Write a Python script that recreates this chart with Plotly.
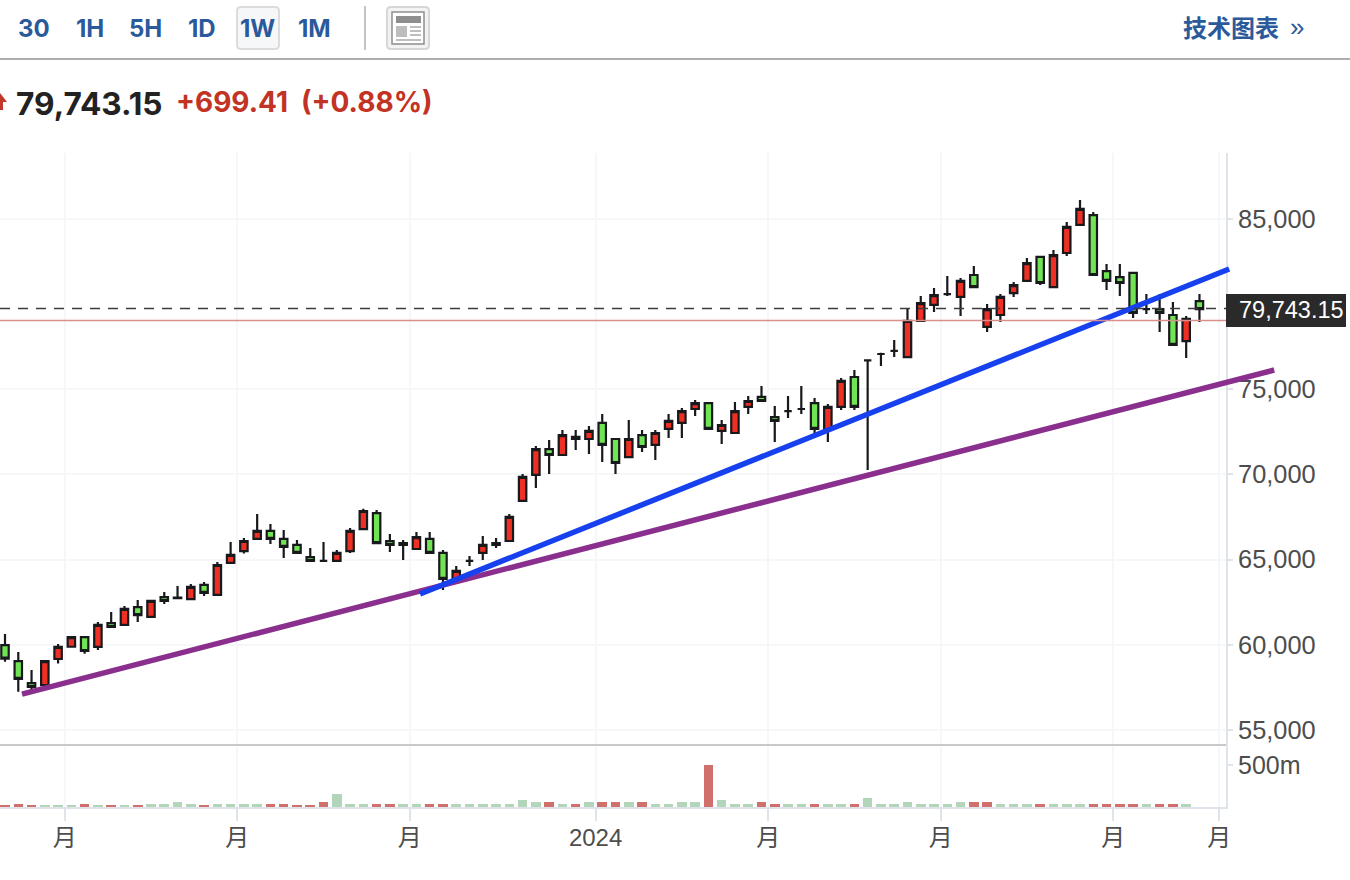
import plotly.graph_objects as go

opens = [59970,59040,57750,57630,59160,59880,60450,59870,61270,61160,62210,61630,62800,62740,62680,63510,62920,64800,65500,66210,
         66680,66210,65860,65150,64920,64920,65500,66790,67730,66090,65860,65620,66210,65390,63740,64920,65390,65860,66090,68440,
         69970,71490,71140,72080,72080,73020,72080,71020,72310,71730,72670,73020,73840,74190,72550,72430,73960,74550,73370,73720,
         73840,74190,72610,73960,75720,76690,77070,77250,76890,79010,79950,80590,80420,81710,78660,79360,80650,81360,82770,81000,
         83000,84650,85230,81940,81590,81830,79710,79710,79360,77830,80180]
highs = [60630,59570,58520,59040,60040,60450,60460,61330,61920,62270,62630,62570,63100,63450,63570,63680,64860,66030,66270,67680,
         67090,66740,66150,65680,66030,65560,66850,67990,67910,66500,66150,66620,66620,65560,64620,65210,66380,66270,67680,70020,
         71670,72020,72610,72610,72840,73550,72090,73200,72610,72610,73550,73900,74370,74200,73200,74250,74600,75190,74020,74600,
         75190,74490,74130,75660,76130,76720,77150,77890,79710,80480,80950,81650,81530,82240,80010,80590,81300,82710,82770,83180,
         84820,86110,85410,82350,82350,81830,80590,80590,80120,79300,80590]
lows = [59000,57240,57340,57580,58890,59870,59470,59690,61030,61150,61330,61620,62390,62740,62680,62860,62920,64800,65360,66210,
        65910,65090,65380,64910,64910,64910,65390,66790,65970,65440,64970,65620,65380,63210,63740,64620,64970,65680,66090,68440,
        69200,70020,71140,71430,71200,70730,70020,71020,71320,70850,72140,72140,73430,72660,71790,72430,73550,74310,71900,73310,
        73550,72370,71900,73780,73780,70260,76370,76890,76890,79000,79540,80480,79300,81000,78360,78950,80420,81350,81120,81000,
        82820,84640,81700,80830,80480,79180,79420,78360,77600,76840,78950]
closes = [59180,57990,57520,59040,59870,60450,59630,61160,61040,62100,61740,62570,62570,62770,63390,63040,64680,65270,66090,66680,
          66210,65740,65390,64920,64920,65390,66680,67850,65970,65860,65970,66320,65390,63860,64330,64920,65860,65970,67500,69850,
          71490,71140,72310,72200,72550,71730,70670,72080,71610,72430,73140,73720,74190,72670,72900,73720,74310,74310,73140,73720,
          73840,72670,73960,75490,73960,76690,77070,77250,79010,80060,80530,80590,81360,81000,79710,80420,81120,82410,81240,82880,
          84530,85590,81710,81360,81240,79480,79710,79480,77600,79130,79710]

volume_m = [12,36,12,12,12,12,36,12,12,12,12,36,36,60,36,12,36,36,36,36,
            36,36,12,12,60,155,36,36,36,36,36,36,36,36,36,36,36,36,36,83,
            60,60,36,36,60,60,60,60,60,36,36,60,60,505,83,36,36,60,36,36,
            36,36,36,36,36,107,36,36,60,36,36,36,60,60,60,36,36,36,36,36,
            36,36,36,36,36,36,36,36,36,36]
volume_up = [1,1,1,0,0,0,1,0,1,0,1,0,0,0,0,1,0,0,0,0,
             1,1,1,1,1,0,0,0,1,1,0,0,1,1,0,0,0,0,0,0,
             0,1,0,1,0,1,1,0,1,0,0,0,0,1,0,0,0,1,1,0,
             0,1,0,0,1,0,0,0,0,0,0,0,0,1,1,0,0,0,1,0,
             0,0,1,1,1,1,0,1,1,0]

week_index = list(range(len(opens)))
volume_index = week_index[:len(volume_m)]
month_ticks = [4.5, 17.5, 30.5, 44.5, 57.5, 70.5, 83.5, 91.5]
month_labels = ["月", "月", "月", "2024", "月", "月", "月", "月"]
price_ticks = [55000, 60000, 65000, 70000, 75000, 85000]
price_labels = ["55,000", "60,000", "65,000", "70,000", "75,000", "85,000"]
volume_ticks = [500]
volume_labels = ["500m"]
last_price = 79743.15
prev_close = 79043.74
blue_x, blue_y = [31.27, 92.24], [62980, 82060]
purple_x, purple_y = [1.28, 95.63], [57100, 76130]
periods = ["30", "1H", "5H", "1D", "1W", "1M"]

W, H = 1350, 880
R, T, B = 1226, 153, 807
def px(x): return x / W
def py(y): return (B - y) / (B - T)
SEP = 745
sans = "Liberation Sans, Noto Sans CJK SC, sans-serif"
head = "Inter, Noto Sans CJK SC, sans-serif"
AX = "#dfe3ea"; GRID = "#f6f7f9"; TXT = "#4d4d4d"; BLUE = "#2b5a9b"
XMIN, XMAX = -0.377, 92.0
XMAX_FULL = XMIN + (XMAX - XMIN) * W / R
YR = [54110, 88873]

fig = go.Figure()
fig.add_trace(go.Candlestick(
    x=week_index, open=opens, high=highs, low=lows, close=closes,
    increasing=dict(line=dict(color="#17191c", width=2.2), fillcolor="#ee3024"),
    decreasing=dict(line=dict(color="#17191c", width=2.2), fillcolor="#70e453"),
    showlegend=False, hoverinfo="skip", xaxis="x", yaxis="y"))
fig.add_trace(go.Bar(
    x=volume_index, y=volume_m, width=0.72,
    marker=dict(color=["#cf706c" if u else "#b3d5ba" for u in volume_up], line=dict(width=0)),
    showlegend=False, hoverinfo="skip", xaxis="x2", yaxis="y2"))
for xs, ys, c in [(purple_x, purple_y, "#8a2f8e"), (blue_x, blue_y, "#1740ee")]:
    fig.add_trace(go.Scatter(x=xs, y=ys, mode="lines", line=dict(color=c, width=5.5),
                             showlegend=False, hoverinfo="skip", xaxis="x3", yaxis="y3"))

shapes = []
def rect(x0, y0, x1, y1, fill=None, line=None, lw=1):
    shapes.append(dict(type="rect", xref="paper", yref="paper", x0=px(x0), x1=px(x1), y0=py(y0), y1=py(y1),
                       fillcolor=fill or "rgba(0,0,0,0)", line=dict(color=line or "rgba(0,0,0,0)", width=lw if line else 0)))
def hline(x0, x1, y, color, lw=1, dash="solid"):
    shapes.append(dict(type="line", xref="paper", yref="paper", x0=px(x0), x1=px(x1), y0=py(y), y1=py(y),
                       line=dict(color=color, width=lw, dash=dash)))
def rounded(x0, y0, x1, y1, r, fill, line):
    a, b, c, d = px(x0), px(x1), py(y0), py(y1)
    rx, ry = r / W, r / (B - T)
    path = (f"M{a+rx},{c} L{b-rx},{c} Q{b},{c} {b},{c-ry} L{b},{d+ry} Q{b},{d} {b-rx},{d} "
            f"L{a+rx},{d} Q{a},{d} {a},{d+ry} L{a},{c-ry} Q{a},{c} {a+rx},{c} Z")
    shapes.append(dict(type="path", xref="paper", yref="paper", path=path, fillcolor=fill, line=dict(color=line, width=2)))

for val, color, dash, lw in [(prev_close, "#d98f8b", "solid", 1.5), (last_price, "#3c3c3c", "10px,8px", 1.5)]:
    shapes.append(dict(type="line", xref="x", yref="y", x0=XMIN, x1=XMAX, y0=val, y1=val,
                       line=dict(color=color, width=lw, dash=dash)))
hline(0, 1226, SEP, "#c9c9c9", 2)
hline(0, 1350, 59, "#adadad", 2)
rounded(237, 7, 279, 49, 4, "#f6f7f9", "#dcdcdc")
shapes.append(dict(type="line", xref="paper", yref="paper", x0=px(365), x1=px(365), y0=py(6), y1=py(50), line=dict(color="#c4c4c4", width=2)))
rounded(387, 7, 429, 49, 4, "#f3f3f3", "#d6d6d6")
rect(392, 12, 424, 44, "#ffffff", "#8e8e8e", 1.5)
rect(396, 16, 421, 23, "#8e8e8e")
rect(396, 26, 407, 37, "#bdbdbd")
for yy in (27, 31, 35):
    hline(410, 421, yy, "#a8a8a8", 1.5)
hline(396, 421, 40, "#a8a8a8", 1.5)
shapes.append(dict(type="path", xref="paper", yref="paper",
    path=f"M{px(-7)},{py(102)} L{px(0)},{py(93)} L{px(7)},{py(102)} L{px(3)},{py(102)} L{px(3)},{py(110)} L{px(-3)},{py(110)} L{px(-3)},{py(102)} Z",
    fillcolor="#c0392b", line=dict(width=0)))
rect(1226, 294, 1346, 327, "#2a2a2a")

ann = []
def text(x, y, s, size, color, family=head, weight=700, anchor="center"):
    ann.append(dict(xref="paper", yref="paper", x=px(x), y=py(y), text=s, showarrow=False, xanchor=anchor, yanchor="middle",
                    font=dict(family=family, size=size, color=color, weight=weight), borderpad=0))
for s, xc in zip(periods, [33.5, 89.5, 145.5, 202, 257.5, 314]):
    text(xc, 28, s, 24, BLUE)
text(1230.5, 26, "技术图表", 24, BLUE, family="Noto Sans CJK SC")
text(1297, 27, "»", 26, BLUE, family=sans, weight=400)
text(15, 103, "79,743.15", 31.6, "#222222", anchor="left")
text(175, 102, "+699.41", 28, "#c23324", anchor="left")
text(300, 102, "(+0.88%)", 28, "#c23324", anchor="left")
text(1238, 310, f"{last_price:,.2f}", 23.5, "#ffffff", family=sans, weight=400, anchor="left")

xfrac = R / W
fig.update_layout(
    width=W, height=H, margin=dict(l=0, r=0, t=T, b=H - B, pad=0, autoexpand=False),
    paper_bgcolor="white", plot_bgcolor="rgba(0,0,0,0)", shapes=shapes, annotations=ann, bargap=0, boxgap=0.2,
    font=dict(family=sans, size=25, color=TXT),
    xaxis=dict(domain=[0, xfrac], range=[XMIN, XMAX], anchor="y", rangeslider=dict(visible=False),
               tickvals=month_ticks, showticklabels=False, ticks="", showgrid=True, gridcolor=GRID, gridwidth=1.5,
               showline=False, zeroline=False),
    yaxis=dict(domain=[py(SEP), 1], range=YR, side="right", anchor="x", tickvals=price_ticks,
               ticktext=price_labels, showgrid=True, gridcolor=GRID, gridwidth=1.5, zeroline=False, showline=True,
               linecolor=AX, linewidth=2, ticks="outside", ticklen=5, tickcolor=AX, tickwidth=2,
               tickfont=dict(family=sans, size=25.4, color=TXT)),
    xaxis2=dict(domain=[0, xfrac], range=[XMIN, XMAX], anchor="y2", tickvals=month_ticks, ticktext=month_labels,
                ticks="outside", ticklen=12, tickcolor=AX, tickwidth=2, showgrid=True, gridcolor=GRID, gridwidth=1.5,
                showline=True, linecolor=AX, linewidth=2, zeroline=False, tickangle=0, ticklabelstandoff=-4,
                tickfont=dict(family=sans, size=24, color=TXT)),
    yaxis2=dict(domain=[0, py(SEP)], range=[0, 738], side="right", anchor="x2", tickvals=volume_ticks,
                ticktext=volume_labels, showgrid=False, zeroline=False, showline=True, linecolor=AX, linewidth=2,
                ticks="outside", ticklen=5, tickcolor=AX, tickwidth=2, tickfont=dict(family=sans, size=25, color=TXT)),
    xaxis3=dict(domain=[0, 1], range=[XMIN, XMAX_FULL], anchor="y3", visible=False),
    yaxis3=dict(domain=[py(SEP), 1], range=YR, anchor="x3", visible=False),
)
fig.write_html("out.html", config=dict(displayModeBar=False),
               post_script="document.body.style.margin='0';document.body.style.overflow='hidden';")
